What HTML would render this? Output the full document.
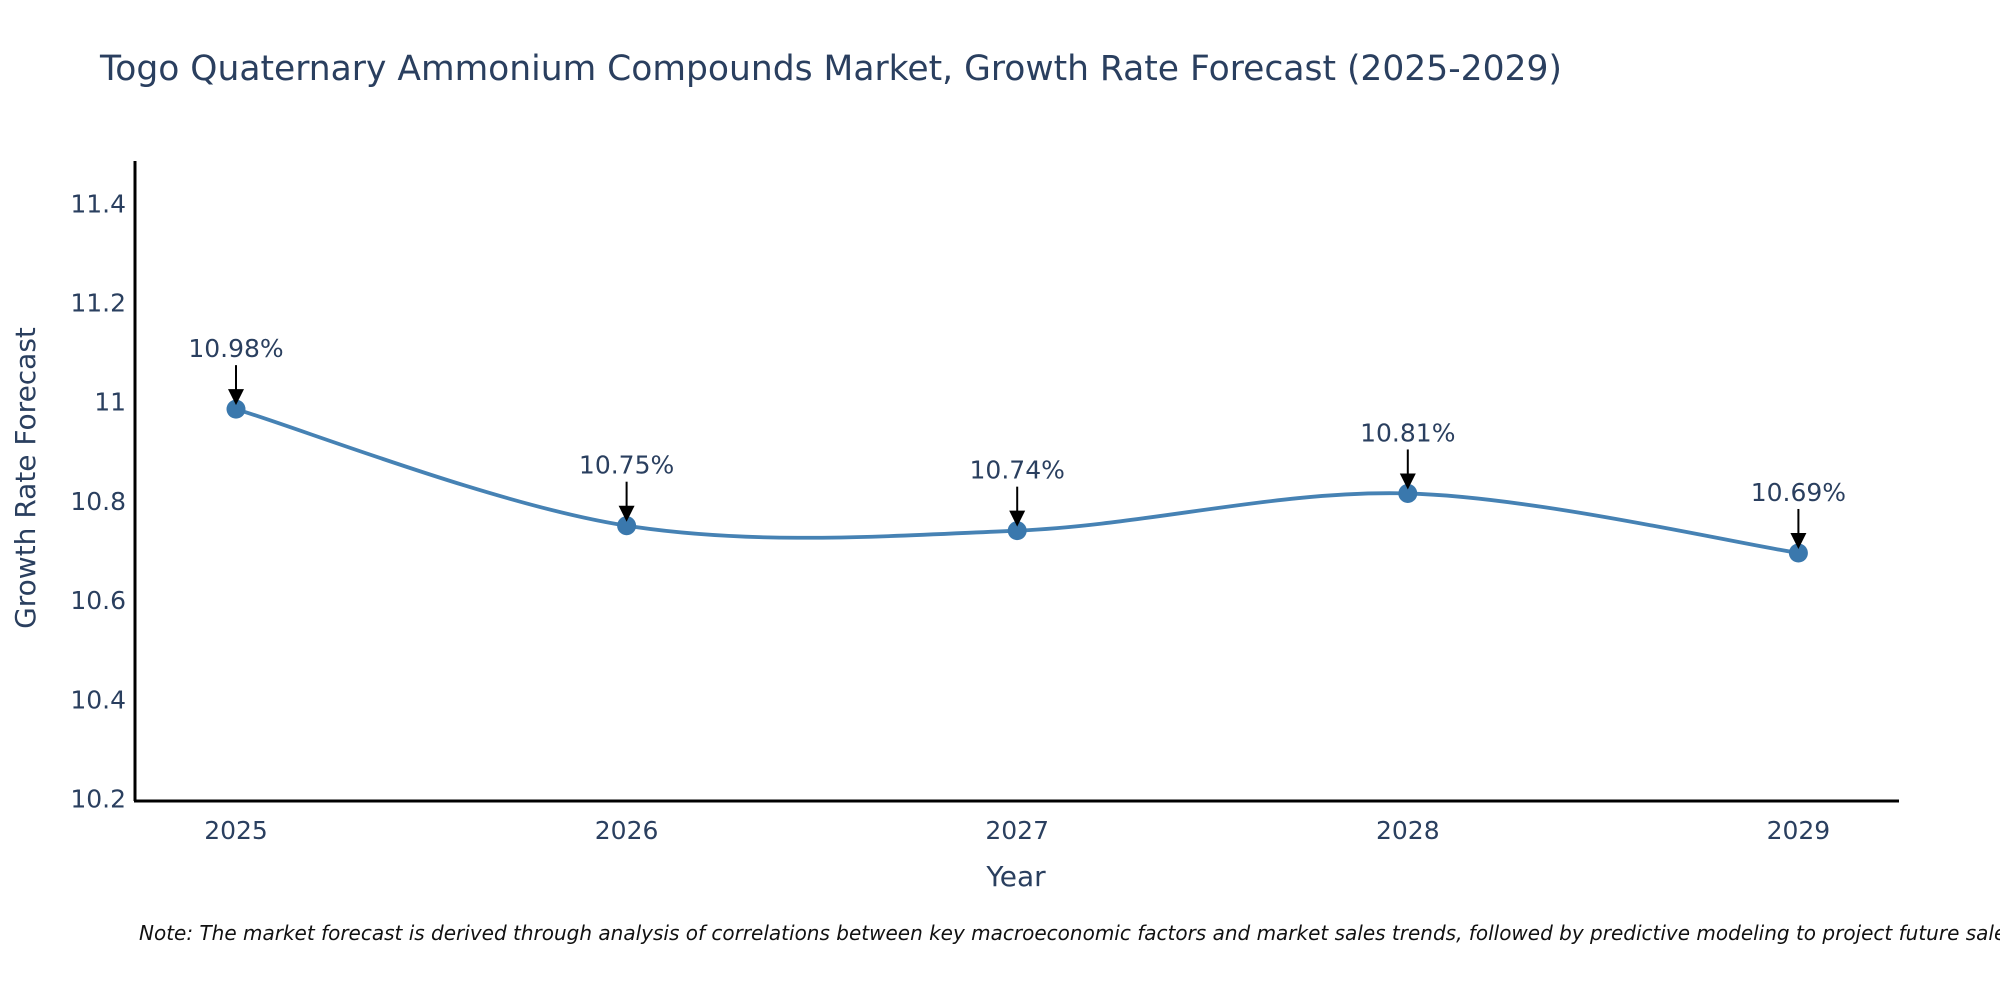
<!DOCTYPE html>
<html><head><meta charset="utf-8"><style>
body{margin:0;background:#fff;}
svg{display:block;font-family:"DejaVu Sans","Liberation Sans",sans-serif;}
</style></head><body>
<svg id="chart" width="2000" height="1000" viewBox="0 0 2000 1000">
<text x="100" y="80" font-size="34.5" fill="#2a3f5f">Togo Quaternary Ammonium Compounds Market, Growth Rate Forecast (2025-2029)</text>
<g id="yticks"></g><g id="xticks"></g>
<path id="line" fill="none" stroke="#4682b4" stroke-width="3.8"/>
<g id="points"></g><g id="annots"></g>
<line x1="135" y1="161" x2="135" y2="801" stroke="#000" stroke-width="3"/>
<line x1="134" y1="801" x2="1899" y2="801" stroke="#000" stroke-width="3"/>
<text x="1016" y="886" font-size="28" fill="#2a3f5f" text-anchor="middle">Year</text>
<text transform="translate(35,478) rotate(-90)" font-size="28" fill="#2a3f5f" text-anchor="middle">Growth Rate Forecast</text>
<text x="139" y="940" font-size="20" font-style="italic" fill="#111">Note: The market forecast is derived through analysis of correlations between key macroeconomic factors and market sales trends, followed by predictive modeling to project future sales.</text>
</svg>
<script>
const years=["2025","2026","2027","2028","2029"];
const values=[10.985,10.75,10.74,10.815,10.695];
const labels=["10.98%","10.75%","10.74%","10.81%","10.69%"];
const yTicks=[10.2,10.4,10.6,10.8,11,11.2,11.4];
const yTickLabels=["10.2","10.4","10.6","10.8","11","11.2","11.4"];
const NS="http://www.w3.org/2000/svg";
function X(i){return 236+i*390.6;}
function Y(v){return 798.5-(v-10.2)*496;}
function mk(t,a,p){const e=document.createElementNS(NS,t);for(const k in a)e.setAttribute(k,a[k]);p.appendChild(e);return e;}
const yg=document.getElementById('yticks');
yTicks.forEach((v,i)=>{const t=mk('text',{x:126,y:Y(v)+9,'font-size':25,fill:'#2a3f5f','text-anchor':'end'},yg);
t.textContent=yTickLabels[i];

});
const xg=document.getElementById('xticks');
years.forEach((y,i)=>{const t=mk('text',{x:X(i),y:839,'font-size':25,fill:'#2a3f5f','text-anchor':'middle'},xg);
t.textContent=y;

});
const pts=values.map((v,i)=>[X(i),Y(v)]);
let d='M'+pts[0][0]+','+pts[0][1];const s=0.33;
for(let i=0;i<pts.length-1;i++){const p0=pts[Math.max(0,i-1)],p1=pts[i],p2=pts[i+1],p3=pts[Math.min(pts.length-1,i+2)];
const c1=[p1[0]+(p2[0]-p0[0])*s/2,p1[1]+(p2[1]-p0[1])*s/2];const c2=[p2[0]-(p3[0]-p1[0])*s/2,p2[1]-(p3[1]-p1[1])*s/2];
d+=' C'+c1[0]+','+c1[1]+' '+c2[0]+','+c2[1]+' '+p2[0]+','+p2[1];}
document.getElementById('line').setAttribute('d',d);
const pg=document.getElementById('points'),ag=document.getElementById('annots');
pts.forEach((p,i)=>{const c=mk('circle',{cx:p[0],cy:p[1],r:9.5,fill:'#3a78ad'},pg);


mk('line',{x1:p[0],y1:p[1]-44,x2:p[0],y2:p[1]-18,stroke:'#000','stroke-width':2},ag);
mk('path',{d:`M${p[0]-8},${p[1]-20} L${p[0]+8},${p[1]-20} L${p[0]},${p[1]-4} Z`,fill:'#000'},ag);
const t=mk('text',{x:p[0],y:p[1]-52,'font-size':25,fill:'#2a3f5f','text-anchor':'middle'},ag);
t.textContent=labels[i];

});
</script>
</body></html>
